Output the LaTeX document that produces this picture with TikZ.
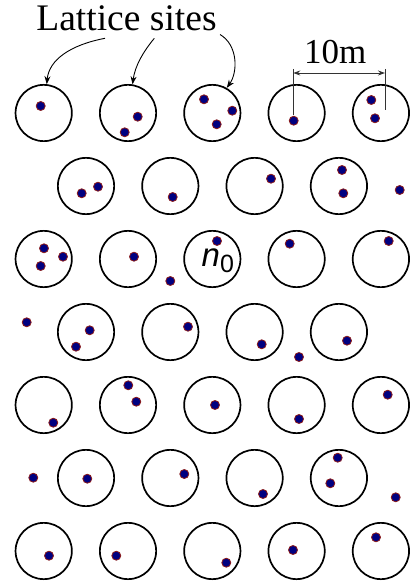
\documentclass[tikz,border=0pt]{standalone}
\usepackage{fontspec}
\setmainfont{Liberation Serif}
\newfontfamily\sitefont{Liberation Sans}
\usepackage{xcolor}
\definecolor{atomFill}{HTML}{000080}
\definecolor{atomRim}{HTML}{8B1A1A}
\definecolor{dimGray}{HTML}{333333}
\usetikzlibrary{calc, positioning, arrows.meta}
\tikzset{
  site/.style={circle, draw=black, line width=1.7pt, minimum size=56.3pt, inner sep=0pt},
  atom/.style={circle, fill=atomFill, draw=atomRim, line width=0.8pt, minimum size=9pt, inner sep=0pt},
  pointer/.style={-{Stealth[length=8pt, width=6pt]}, line width=0.9pt},
  dimline/.style={draw=dimGray, line width=0.9pt}
}

\begin{document}
\begin{tikzpicture}[x=1pt, y=-1pt]
  \useasboundingbox (0,0) rectangle (411,585);
  \foreach \r in {1,3,5,7}
    \foreach \k in {1,...,5}
      \node[site] (s\r\k) at ({43.7+84.3*(\k-1)}, {113+73*(\r-1)}) {};
  \foreach \r in {2,4,6}
    \foreach \k in {1,...,4}
      \node[site] (s\r\k) at ({86+84.3*(\k-1)}, {113+73*(\r-1)}) {};
  \foreach \p [count=\i] in {(40.7,106), (137.7,116.7), (124.7,132.3), (204,99.3), (232.3,110.7),
      (216.7,124.3), (293.7,120.7), (371.3,100), (375,118.3),
      (81.7,193.3), (98,186.7), (172.7,197), (271,178.7), (342,170), (343.3,193.3), (399.7,190),
      (44,248.3), (63,256.7), (40.7,266), (134,256.7), (170.3,281), (217,241), (289.7,243.7), (388.7,241),
      (26.7,322.3), (89.7,330.3), (76,346.7), (188,326.7), (261.7,344.3), (299,357), (347,340.7),
      (53.3,422.7), (128.3,385.3), (136.3,401.7), (215,405), (299,419), (387.7,394.7),
      (33.3,477.7), (87.3,478.7), (184.3,474), (263,494), (337.7,457.7), (330.3,483.3), (395.7,497.3),
      (49,555.7), (116.3,555.7), (226.3,562.7), (293,550), (376,537.3)}
    \node[atom] (a\i) at \p {};
  \node[anchor=base west, inner sep=0pt] (nzero) at (201.5,266.7)
    {\sitefont\fontsize{33}{33}\selectfont\textit{n}\raisebox{-6pt}{\fontsize{25}{25}\selectfont 0}};
  \node[anchor=base west, inner sep=0pt] (lbl) at (36.2,30.7) {\fontsize{37.5}{40}\selectfont Lattice sites};
  \coordinate (t1) at (105,38.3);
  \coordinate (t2) at (154.3,38.3);
  \coordinate (t3) at (220,34.5);
  \draw[pointer] (t1) .. controls (70,45) and (49,60) .. (s11.84);
  \draw[pointer] (t2) .. controls (143,52) and (135,66) .. (s12.81);
  \draw[pointer] (t3) .. controls (238,45) and (238,72) .. (s13.60);
  \coordinate (m1) at (293.3,69);
  \coordinate (m2) at (385,69);
  \draw[dimline] (m1) -- ++(0,46);
  \draw[dimline] (m2) -- ++(0,41);
  \draw[dimline, {Stealth[length=7pt, width=5pt]}-{Stealth[length=7pt, width=5pt]}]
    ($(m1)+(0,4)$) -- ($(m2)+(0,4)$);
  \node[anchor=base, inner sep=0pt] (dist) at (335.3,63.3) {\fontsize{35}{38}\selectfont 10m};
\end{tikzpicture}
\end{document}
